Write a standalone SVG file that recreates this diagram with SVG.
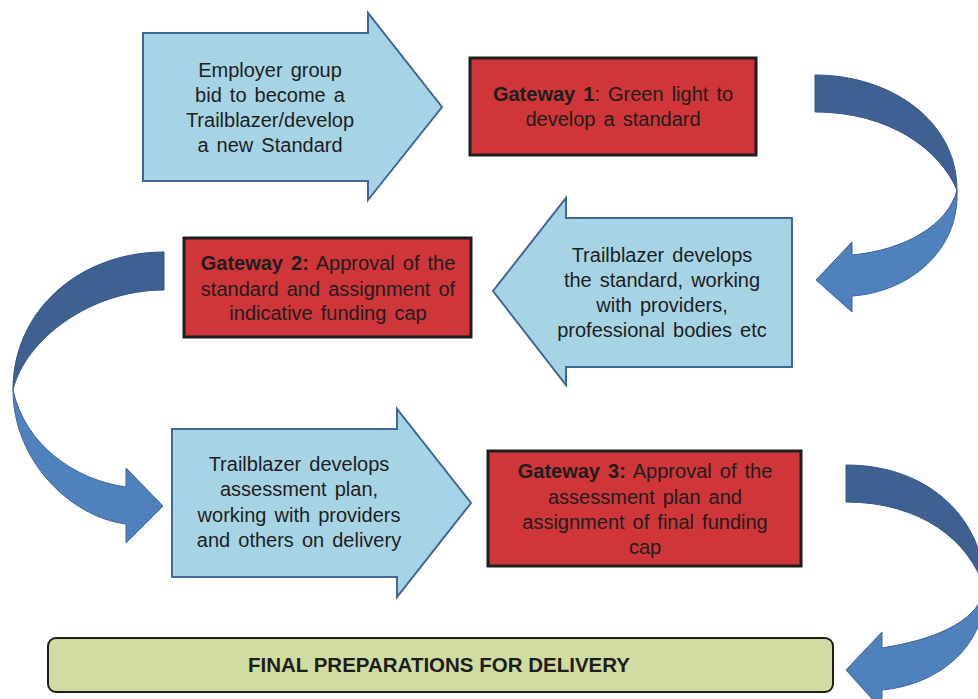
<svg xmlns="http://www.w3.org/2000/svg" width="978" height="699" viewBox="0 0 978 699">
<style>
.blk{fill:#A7D4E4;stroke:#41679A;stroke-width:2}
.gw{fill:#CF3539;stroke:#1E1E1E;stroke-width:3}
.t{font-family:"Liberation Sans",Arial,sans-serif;font-size:20px;fill:#1E1E1E;text-anchor:middle;word-spacing:2.5px}
.b{font-weight:bold}
.dk{fill:#3E6192;stroke:#34558A;stroke-width:1}
.lt{fill:#4F81BD;stroke:#3A64A0;stroke-width:1}
</style>
<rect width="978" height="699" fill="#FFFFFF"/>
<g id="connectors">
  <g id="curve1">
    <path class="dk" d="M815,75 C890,75 957,120 957,190 C940,150 890,112 815,112 Z"/>
    <path class="lt" d="M957,190 C960,250 910,292 852,296 L852,312 L816,280 L852,242 L852,255 C905,250 948,225 957,190 Z"/>
  </g>
  <g id="curve2">
    <path class="dk" d="M164,252 C80,252 13,310 13,390 C25,340 90,290 164,290 Z"/>
    <path class="lt" d="M13,390 C13,460 70,517 126,524 L126,543 L163,506 L126,468 L126,487 C75,480 25,445 13,390 Z"/>
  </g>
  <g id="curve3">
    <path class="dk" d="M846,465 C930,465 985,520 985,590 C970,540 920,502 846,502 Z"/>
    <path class="lt" d="M985,590 C985,650 935,685 882,690 L882,710 L846,670 L882,632 L882,648 C930,640 975,625 985,590 Z"/>
  </g>
</g>
<g id="employer">
  <path class="blk" d="M143,33 L368,33 L368,13 L442,107 L368,200 L368,181 L143,181 Z"/>
  <text class="t" x="270" y="77">Employer group</text>
  <text class="t" x="270" y="102">bid to become a</text>
  <text class="t" x="270" y="127">Trailblazer/develop</text>
  <text class="t" x="270" y="152">a new Standard</text>
</g>
<g id="gateway1">
  <rect class="gw" x="470" y="58" width="286" height="97"/>
  <text class="t" x="613" y="101"><tspan class="b">Gateway 1</tspan>: Green light to</text>
  <text class="t" x="613" y="126">develop a standard</text>
</g>
<g id="develop-standard">
  <path class="blk" d="M792,218 L566,218 L566,198 L493,291 L566,385 L566,367 L792,367 Z"/>
  <text class="t" x="662" y="262">Trailblazer develops</text>
  <text class="t" x="662" y="287">the standard, working</text>
  <text class="t" x="662" y="312">with providers,</text>
  <text class="t" x="662" y="337">professional bodies etc</text>
</g>
<g id="gateway2">
  <rect class="gw" x="184" y="238" width="287" height="99"/>
  <text class="t" x="328" y="270"><tspan class="b">Gateway 2:</tspan> Approval of the</text>
  <text class="t" x="328" y="296">standard and assignment of</text>
  <text class="t" x="328" y="320">indicative funding cap</text>
</g>
<g id="assessment-plan">
  <path class="blk" d="M172,429 L397,429 L397,409 L471,503 L397,597 L397,577 L172,577 Z"/>
  <text class="t" x="299" y="471">Trailblazer develops</text>
  <text class="t" x="299" y="496">assessment plan,</text>
  <text class="t" x="299" y="522">working with providers</text>
  <text class="t" x="299" y="547">and others on delivery</text>
</g>
<g id="gateway3">
  <rect class="gw" x="488" y="451" width="313" height="115"/>
  <text class="t" x="645" y="478"><tspan class="b">Gateway 3:</tspan> Approval of the</text>
  <text class="t" x="645" y="504">assessment plan and</text>
  <text class="t" x="645" y="529">assignment of final funding</text>
  <text class="t" x="645" y="554">cap</text>
</g>
<g id="final">
  <rect x="48" y="638" width="785" height="54" rx="8" ry="8" fill="#D1DCA0" stroke="#1E1E1E" stroke-width="2"/>
  <text x="439" y="672" font-family="'Liberation Sans',Arial,sans-serif" font-size="21" font-weight="bold" fill="#1E1E1E" text-anchor="middle" textLength="382" lengthAdjust="spacingAndGlyphs">FINAL PREPARATIONS FOR DELIVERY</text>
</g>
</svg>
